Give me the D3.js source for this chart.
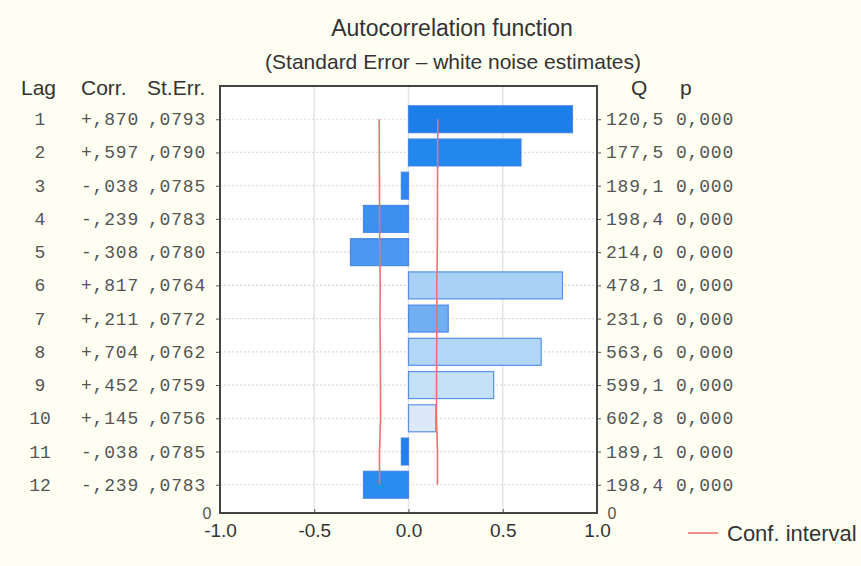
<!DOCTYPE html>
<html>
<head>
<meta charset="utf-8">
<script src="https://cdn.jsdelivr.net/npm/d3@7/dist/d3.min.js"></script>
<style>
  body { margin: 0; background: #fefef2; }
  svg { display: block; }
</style>
</head>
<body>
<svg id="acf" width="861" height="566"></svg>
<script>
// data
const lags = [1, 2, 3, 4, 5, 6, 7, 8, 9, 10, 11, 12];
const corr = [0.870, 0.597, -0.038, -0.239, -0.308, 0.817, 0.211, 0.704, 0.452, 0.145, -0.038, -0.239];
const corrLabels = ['+,870', '+,597', '-,038', '-,239', '-,308', '+,817', '+,211', '+,704', '+,452', '+,145', '-,038', '-,239'];
const stErr = [0.0793, 0.0790, 0.0785, 0.0783, 0.0780, 0.0764, 0.0772, 0.0762, 0.0759, 0.0756, 0.0785, 0.0783];
const stErrLabels = [',0793', ',0790', ',0785', ',0783', ',0780', ',0764', ',0772', ',0762', ',0759', ',0756', ',0785', ',0783'];
const qLabels = ['120,5', '177,5', '189,1', '198,4', '214,0', '478,1', '231,6', '563,6', '599,1', '602,8', '189,1', '198,4'];
const pLabels = ['0,000', '0,000', '0,000', '0,000', '0,000', '0,000', '0,000', '0,000', '0,000', '0,000', '0,000', '0,000'];
const xTicks = [-1.0, -0.5, 0.0, 0.5, 1.0];

// bar fills as they look in the picture (the gif has them shaded differently)
const barFill = ['#1c7ee9', '#2188ee', '#2a88ee', '#3d8ff0', '#4a98f0', '#a9d1f6', '#72aef2',
                 '#b2d6f6', '#c4e1f8', '#dde9f8', '#1f82ea', '#2a8cf0'];

const svg = d3.select('#acf');
const pLeft = 220, pRight = 597, pTop = 86, pBottom = 513;

const x = d3.scaleLinear().domain([-1, 1]).range([pLeft, pRight]);
const y = d3.scaleLinear().domain([0, 12.85]).range([pTop, pBottom]);
const barH = 27;

const mono = '"Courier New", "Liberation Mono", monospace';
const sans = 'Arial, "Liberation Sans", sans-serif';

// title
svg.append('text').attr('x', 452).attr('y', 36).attr('text-anchor', 'middle')
  .style('font-family', sans).style('font-size', '23px').style('fill', '#333')
  .text('Autocorrelation function');
svg.append('text').attr('x', 453).attr('y', 69).attr('text-anchor', 'middle')
  .style('font-family', sans).style('font-size', '21px').style('fill', '#333')
  .text('(Standard Error \u2013 white noise estimates)');

// plot area
svg.append('rect').attr('x', pLeft).attr('y', pTop)
  .attr('width', pRight - pLeft).attr('height', pBottom - pTop).style('fill', '#fff');

// grid
svg.append('g').selectAll('line').data(xTicks.slice(1, -1)).join('line')
  .attr('x1', d => x(d)).attr('x2', d => x(d)).attr('y1', pTop).attr('y2', pBottom)
  .style('stroke', '#e4e4e4').style('stroke-width', 1.5);
svg.append('g').selectAll('line').data(lags).join('line')
  .attr('x1', pLeft).attr('x2', pRight).attr('y1', d => y(d)).attr('y2', d => y(d))
  .style('stroke', '#dcdcdc').style('stroke-width', 1.2).style('stroke-dasharray', '2,2');

// bars
svg.append('g').selectAll('rect').data(lags).join('rect')
  .attr('x', (d, i) => x(Math.min(0, corr[i])))
  .attr('width', (d, i) => Math.abs(x(corr[i]) - x(0)))
  .attr('y', d => y(d) - barH / 2)
  .attr('height', barH)
  .style('fill', (d, i) => barFill[i])
  .style('stroke', '#3b7be0').style('stroke-width', 1.2).style('stroke-opacity', 0.8);

// confidence interval lines
const ci = lags.map((d, i) => ({ lag: d, se: 1.96 * stErr[i] }));
const ciLine = sign => d3.line().x(d => x(sign * d.se)).y(d => y(d.lag));
svg.append('path').datum(ci).attr('d', ciLine(-1))
  .style('fill', 'none').style('stroke', '#f07070').style('stroke-width', 1.6);
svg.append('path').datum(ci).attr('d', ciLine(1))
  .style('fill', 'none').style('stroke', '#f07070').style('stroke-width', 1.6);

// axes
const xAxis = svg.append('g').attr('transform', `translate(0,${pBottom})`)
  .call(d3.axisBottom(x).tickValues(xTicks).tickFormat(d3.format('.1f')).tickSize(4).tickPadding(7));
xAxis.select('.domain').remove();
xAxis.selectAll('line').style('stroke', '#555').attr('y2', -4);
xAxis.selectAll('text').style('font-family', sans).style('font-size', '19px').style('fill', '#333')
  .text(d => d3.format('.1f')(d).replace('\u2212', '-'));

const yl = svg.append('g').attr('transform', `translate(${pLeft},0)`)
  .call(d3.axisLeft(y).tickValues(lags).tickSize(4).tickFormat(''));
yl.select('.domain').remove();
yl.selectAll('line').style('stroke', '#555');
const yr = svg.append('g').attr('transform', `translate(${pRight},0)`)
  .call(d3.axisRight(y).tickValues(lags).tickSize(4).tickFormat(''));
yr.select('.domain').remove();
yr.selectAll('line').style('stroke', '#555');

// frame
svg.append('rect').attr('x', pLeft).attr('y', pTop)
  .attr('width', pRight - pLeft).attr('height', pBottom - pTop)
  .style('fill', 'none').style('stroke', '#444').style('stroke-width', 2);

// zero labels at the foot of both side axes
svg.append('text').attr('x', 207).attr('y', pBottom + 6).attr('text-anchor', 'middle')
  .style('font-family', sans).style('font-size', '16px').style('fill', '#555').text('0');
svg.append('text').attr('x', 612).attr('y', pBottom + 6).attr('text-anchor', 'middle')
  .style('font-family', sans).style('font-size', '16px').style('fill', '#555').text('0');

// table headers
const head = [['Lag', 21], ['Corr.', 81], ['St.Err.', 147], ['Q', 631], ['p', 680]];
svg.append('g').selectAll('text').data(head).join('text')
  .attr('x', d => d[1]).attr('y', 95)
  .style('font-family', sans).style('font-size', '21px').style('fill', '#333')
  .text(d => d[0]);

// table rows
const cols = [
  { vals: lags.map(String), x: 40, anchor: 'middle' },
  { vals: corrLabels, x: 81, anchor: 'start' },
  { vals: stErrLabels, x: 148, anchor: 'start' },
  { vals: qLabels, x: 606, anchor: 'start' },
  { vals: pLabels, x: 676, anchor: 'start' }
];
cols.forEach(c => {
  svg.append('g').selectAll('text').data(lags).join('text')
    .attr('x', c.x).attr('y', d => y(d) + 6)
    .attr('text-anchor', c.anchor)
    .style('font-family', mono).style('font-size', '18px')
    .style('letter-spacing', c.anchor === 'start' ? '0.8px' : '0px')
    .style('fill', '#555')
    .text((d, i) => c.vals[i]);
});

// legend
svg.append('line').attr('x1', 688).attr('x2', 718).attr('y1', 533).attr('y2', 533)
  .style('stroke', '#f07070').style('stroke-width', 1.6);
svg.append('text').attr('x', 727).attr('y', 541)
  .style('font-family', sans).style('font-size', '22px').style('fill', '#333')
  .text('Conf. interval');
</script>
</body>
</html>
